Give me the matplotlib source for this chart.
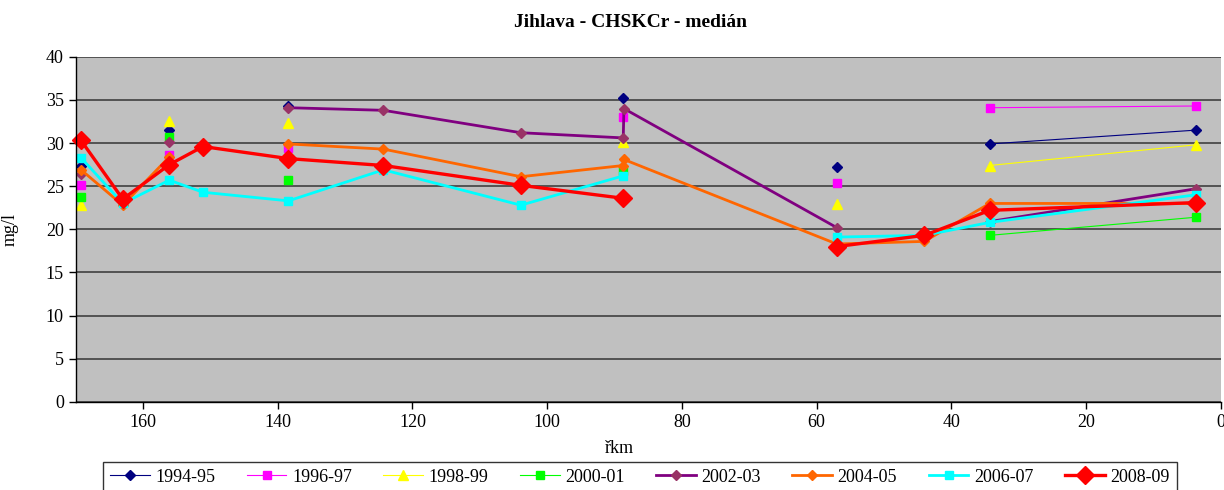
import numpy as np
import matplotlib
matplotlib.use('Agg')
import matplotlib.pyplot as plt

nan = np.nan

# rkm of the profiles (two rows at ~88.6)
rkm = [169.2, 163.0, 156.1, 151.1, 138.4, 124.3, 103.9, 88.7, 88.6, 57.0, 44.0, 34.3, 3.7]

s_1994 = [27.3, nan, 31.5, nan, 34.3, nan, nan, 35.2, nan, 27.2, nan, 29.9, 31.5]
s_1996 = [25.1, nan, 28.6, nan, 29.4, nan, nan, 33.0, nan, 25.4, nan, 34.1, 34.3]
s_1998 = [22.8, nan, 32.6, nan, 32.3, nan, nan, 30.1, nan, 22.9, nan, 27.4, 29.8]
s_2000 = [23.7, nan, 30.7, nan, 25.7, nan, nan, 26.8, nan, nan, nan, 19.3, 21.4]
s_2002 = [26.4, nan, 30.1, nan, 34.1, 33.8, 31.2, 30.6, 34.0, 20.2, nan, 20.9, 24.7]
s_2004 = [26.9, 22.8, 28.4, nan, 29.9, 29.3, 26.1, 27.4, 28.1, 18.3, 18.6, 23.0, 23.0]
s_2006 = [28.3, 23.0, 25.7, 24.3, 23.3, 26.9, 22.8, 26.2, nan, 19.1, 19.3, 20.8, 24.0]
s_2008 = [30.3, 23.5, 27.5, 29.6, 28.2, 27.4, 25.1, 23.6, nan, 18.0, 19.3, 22.2, 23.1]

labels = ['1994-95', '1996-97', '1998-99', '2000-01', '2002-03', '2004-05', '2006-07', '2008-09']
series = [s_1994, s_1996, s_1998, s_2000, s_2002, s_2004, s_2006, s_2008]

# (line colour, marker, marker colour, marker size, line width)
styles = [
    ('#000080', 'D', '#000080', 5, 0.8),
    ('#FF00FF', 's', '#FF00FF', 5.5, 0.8),
    ('#FFFF00', '^', '#FFFF00', 7, 0.8),
    ('#00FF00', 's', '#00FF00', 5.5, 0.8),
    ('#800080', 'D', '#993366', 5, 2.0),
    ('#FF6600', 'D', '#FF6600', 5, 2.0),
    ('#00FFFF', 's', '#00FFFF', 5.5, 2.0),
    ('#FF0000', 'D', '#FF0000', 9, 2.4),
]

plt.rcParams['font.family'] = ['Liberation Serif', 'DejaVu Serif']

fig = plt.figure(figsize=(12.24, 4.9), dpi=100)
ax = fig.add_axes([0.0618, 0.180, 0.9355, 0.704])
ax.set_facecolor('#C0C0C0')

for y, lab, st in zip(series, labels, styles):
    ax.plot(rkm, y, color=st[0], marker=st[1], markerfacecolor=st[2], markeredgecolor=st[2],
            markersize=st[3], linewidth=st[4], label=lab, clip_on=False)

ax.set_xlim(170, 0)
ax.set_ylim(0, 40)
ax.set_xticks(np.arange(0, 170, 20))
ax.set_yticks(np.arange(0, 41, 5))
ax.yaxis.grid(True, color='#404040', linewidth=1.2)
ax.set_axisbelow(True)
for sp in ['top', 'right']:
    ax.spines[sp].set_visible(False)
ax.spines['left'].set_linewidth(1.0)
ax.spines['bottom'].set_linewidth(1.0)
ax.tick_params(direction='out', length=5, labelsize=13, width=1)

ax.set_xlabel('řkm', fontsize=13)
ax.xaxis.set_label_coords(0.475, -0.11)
ax.set_ylabel('mg/l', fontsize=13)
ax.yaxis.set_label_coords(-0.05, 0.5)

fig.text(0.515, 0.955, 'Jihlava - CHSKCr - medián', ha='center', va='center',
         fontsize=14, fontweight='bold')

leg = fig.legend(loc='upper left', bbox_to_anchor=(0.084, 0.058), ncol=8, fontsize=13,
                 frameon=True, fancybox=False, edgecolor='black', handlelength=2.2,
                 columnspacing=1.75, handletextpad=0.3, borderaxespad=0)
leg.get_frame().set_linewidth(1.0)

fig.savefig('out.png', dpi=100)
